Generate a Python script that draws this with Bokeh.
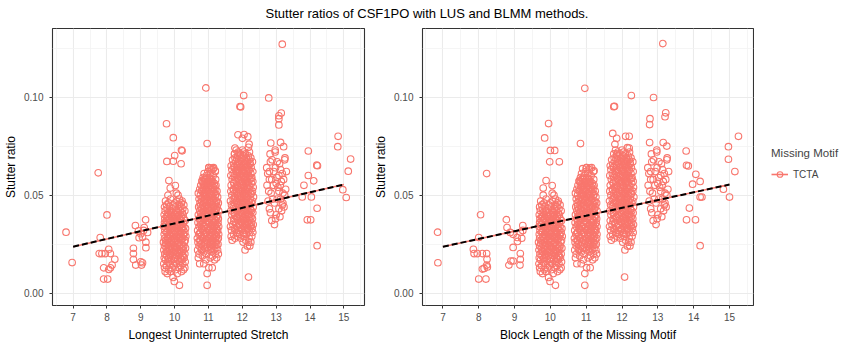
from bokeh.plotting import figure
from bokeh.models import Range1d, FixedTicker, Legend, LegendItem, Div, NumeralTickFormatter
from bokeh.layouts import row, column
from bokeh.embed import file_html
from bokeh.resources import INLINE

title_text = "Stutter ratios of CSF1PO with LUS and BLMM methods."
xlabel_lus = "Longest Uninterrupted Stretch"
xlabel_blmm = "Block Length of the Missing Motif"
ylabel = "Stutter ratio"
legend_title = "Missing Motif"
motif = "TCTA"

x_ticks = [7, 8, 9, 10, 11, 12, 13, 14, 15]
y_ticks = [0.0, 0.05, 0.10]

# dense clusters: stutter ratio levels (x1000) and jitter offsets (x100) around block length
c10_levels = [4, 6, 8, 10, 11, 12, 13, 14, 15, 16, 17, 18, 19, 20, 21, 22, 23, 24, 25, 26, 27, 28, 29, 30,
              31, 32, 33, 34, 35, 36, 37, 38, 39, 40, 41, 42, 43, 44, 45, 46, 47, 48, 50, 51]
c10_offsets = [[14], [-1], [-5], [-22, 8], [-28, -12, 20], [-18, 2, 26], [-30, -8, 12, 30], [-24, -2, 18],
               [-32, -14, 6, 24], [-20, 0, 14, 31], [-27, -9, 9, 22], [-31, -17, 3, 17, 28], [-23, -6, 11, 25],
               [-29, -13, 1, 14, 30], [-21, -4, 8, 21], [-32, -16, -1, 12, 26], [-25, -9, 5, 19, 32],
               [-30, -14, 0, 15, 27], [-22, -6, 9, 22], [-33, -17, -2, 13, 29], [-26, -10, 4, 18, 31],
               [-30, -15, 0, 11, 24], [-21, -5, 8, 20, 33], [-31, -17, -2, 14, 27], [-25, -11, 3, 17, 30],
               [-29, -14, 0, 12, 24], [-22, -7, 9, 21, 32], [-32, -17, -3, 14, 27], [-26, -10, 5, 18],
               [-30, -14, 1, 11, 25], [-23, -6, 9, 20, 31], [-29, -15, -1, 15, 27], [-24, -9, 5, 19],
               [-31, -17, 0, 12, 25], [-20, -5, 9, 22], [-28, -12, 3, 17, 30], [-22, -6, 11, 24],
               [-30, -15, 2, 18], [-24, -4, 13, 27], [-18, 0, 20], [-27, 6, 22], [-12, 14], [-20, 10], [5]]
c10_core_levels = [17.5, 19.5, 21.5, 23.5, 25.5, 27.5, 29.5, 31.5, 33.5, 35.5, 37.5, 39.5, 41.5]
c10_core_offsets = [[-19, 0, 19], [-15, 5, 22], [-24, -8, 15], [-18, 2, 24], [-27, -12, 12], [-20, -3, 20],
                    [-13, 6, 26], [-22, -1, 16], [-16, 4, 23], [-25, -7, 14], [-18, 3, 17], [-21, -6, 11],
                    [-14, 7]]

c11_levels = [4, 10, 13, 15, 17, 18, 19, 20, 21, 22, 23, 24, 25, 26, 27, 28, 29, 30, 31, 32, 33, 34, 35,
              36, 37, 38, 39, 40, 41, 42, 43, 44, 45, 46, 47, 48, 49, 50, 51, 52, 53, 54, 55, 56, 57, 58,
              59, 60, 61, 62, 63, 64]
c11_offsets = [[-4], [-4], [1, 11], [-26, -14], [-8, 18], [-30, 5, 24], [-18, 12], [-28, -6, 20, 29],
               [-14, 8], [-32, -20, 0, 16, 27], [-10, 10, 22], [-28, -16, 3, 18], [-22, -4, 13, 28],
               [-31, -12, 6, 21], [-25, -7, 10, 25], [-33, -17, 0, 15, 29], [-21, -5, 11, 23],
               [-29, -13, 4, 19, 30], [-24, -8, 8, 24], [-32, -16, 1, 14, 27], [-20, -3, 12, 22],
               [-28, -12, 5, 18, 30], [-23, -7, 9, 25], [-31, -15, 0, 15, 28], [-19, -4, 11, 21],
               [-27, -11, 4, 17, 29], [-22, -6, 8, 24], [-30, -14, 1, 13, 27], [-18, -2, 10, 20],
               [-26, -10, 5, 18, 30], [-21, -5, 9, 23], [-29, -13, 0, 14, 26], [-17, -3, 11, 21],
               [-25, -9, 6, 19, 29], [-20, -4, 10, 24], [-28, -12, 2, 15], [-16, 0, 12, 27],
               [-24, -8, 7, 20], [-30, -13, 3, 16], [-19, -3, 10, 25], [-26, -9, 6, 19], [-15, 1, 14],
               [-23, -6, 9, 22], [-12, 4, 17], [-19, -2, 12], [-9, 8, 21], [-16, 2], [-6, 14], [-13, 5],
               [20, -2], [9], [1, 15]]
c11_core_levels = [22.5, 24.5, 26.5, 28.5, 30.5, 32.5, 34.5, 36.5, 38.5, 40.5, 42.5, 44.5, 46.5, 48.5,
                   50.5, 52.5, 54.5, 56.5, 58.5]
c11_core_offsets = [[-22, 6], [-12, 10, 24], [-25, -2, 16], [-17, 7, 21], [-26, -6, 12], [-19, 3, 25],
                    [-14, 8, 20], [-24, -3, 16], [-16, 6, 24], [-23, -8, 11], [-15, 2, 21], [-24, -6, 17],
                    [-14, 4, 24], [-21, -5, 9], [-12, 6, 22], [-20, -7, 15], [-11, 3, 19], [-16, -4, 9],
                    [-10, 6]]

c12_levels = [22, 24, 26, 27, 28, 29, 30, 31, 32, 33, 34, 35, 36, 37, 38, 39, 40, 41, 42, 43, 44, 45, 46,
              47, 48, 49, 50, 51, 52, 53, 54, 55, 56, 57, 58, 59, 60, 61, 62, 63, 64, 65, 66, 67, 68, 69,
              70, 71, 72, 73]
c12_offsets = [[8], [15, 22], [2, 18, 25], [-30, 10], [-22, -5, 20], [-33, -14, 6, 28], [-26, -8, 12],
               [-18, 3, 22, 31], [-32, -11, 8, 19], [-24, -2, 14, 29], [-35, -15, 5, 24],
               [-28, -8, 10, 20, 32], [-20, -1, 16, 27], [-33, -13, 4, 22], [-25, -6, 11, 30],
               [-17, 1, 17, 26], [-31, -11, 7, 21], [-23, -4, 13, 31], [-34, -15, 2, 18, 27],
               [-27, -8, 9, 23], [-19, -1, 15, 32], [-32, -12, 5, 20], [-24, -5, 11, 27],
               [-35, -16, 1, 17, 30], [-27, -9, 8, 23], [-20, -2, 14, 33], [-31, -13, 4, 19],
               [-24, -6, 10, 26], [-34, -17, 0, 16, 30], [-27, -10, 7, 22], [-21, -3, 13, 32],
               [-33, -14, 3, 19], [-25, -7, 10, 27], [-18, 0, 16, 31], [-30, -11, 6, 22], [-23, -4, 12, 28],
               [-34, -15, 2, 18], [-27, -9, 8, 25], [-19, -1, 14, 31], [-31, -12, 4, 20], [-24, -6, 10, 26],
               [-33, -16, 1, 17], [-26, -8, 8, 23], [-19, -2, 14, 30], [-29, -11, 5, 20], [-22, -4, 11, 25],
               [-14, 3, 18], [-23, -6, 9], [-12, 4, 21], [-18, 0]]
c12_core_levels = [30.5, 32.5, 34.5, 36.5, 38.5, 40.5, 42.5, 44.5, 46.5, 48.5, 50.5, 52.5, 54.5, 56.5,
                   58.5, 60.5, 62.5, 64.5, 66.5, 68.5]
c12_core_offsets = [[-14, 5], [-22, -3, 14], [-10, 11, 26], [-25, -6, 8], [-16, 4, 22], [-24, -2, 15],
                    [-12, 7, 24], [-27, -7, 10], [-17, 3, 21], [-23, -5, 12], [-13, 8, 25], [-26, -8, 9],
                    [-16, 5, 22], [-25, -3, 13], [-12, 9, 26], [-22, -6, 11], [-15, 2, 19], [-24, -4, 13],
                    [-11, 7, 22], [-17, -2, 12]]

c13_levels = [73, 72, 69, 68, 67, 66, 64, 63, 62, 61, 60, 59, 58, 57, 56, 55, 54, 53, 52, 51, 50, 48, 47,
              46, 45, 44, 43, 42, 41, 40, 39, 38, 37, 35, 71]
c13_offsets = [[-3], [-3], [26], [25, -12], [-17, 3], [10], [-2, -28], [13], [-7, -20, 30], [-25, 18],
               [8], [2], [-13, -20, 22], [15], [0], [-27, -8, 12], [5], [28], [-22, 8], [-15, 20], [25],
               [-10, 3, 13], [-24], [-5, 20], [18], [23], [-20, 8], [16], [-17], [0], [11], [-2], [-13],
               [-5], [-18]]

# scattered points (block length, stutter ratio x1000), LUS panel
lus_sparse = [(6.79, 31.1), (6.97, 15.6), (7.74, 61.4), (7.80, 28.4), (8.00, 39.9), (7.77, 20.2),
              (7.85, 20.2), (7.95, 20.2), (8.05, 22.4), (8.10, 20.2), (8.23, 17.3), (8.15, 14.3),
              (8.10, 12.9), (7.90, 12.9), (8.05, 12.1), (7.90, 7.2), (8.02, 7.2),
              (8.84, 34.5), (9.14, 37.4), (8.78, 22.9), (8.78, 20.2), (8.78, 17.2), (8.85, 14.3),
              (9.00, 16.0), (9.05, 15.5), (9.02, 14.3), (8.95, 28.3), (9.00, 30.3), (9.08, 32.0),
              (9.15, 26.0), (9.20, 31.0), (9.10, 33.5), (9.05, 28.5), (9.15, 23.2), (8.93, 31.8),
              (9.76, 86.4), (9.96, 79.3), (10.20, 73.0), (10.22, 72.6), (10.00, 70.2), (9.77, 67.2),
              (9.96, 67.3), (10.19, 66.0), (9.83, 57.4), (10.02, 54.9), (9.87, 53.6),
              (10.92, 104.7), (10.96, 76.3), (11.01, 64.0), (11.20, 62.4), (10.81, 57.4), (11.07, 63.8),
              (11.14, 63.5),
              (12.04, 100.8), (11.93, 95.2), (11.95, 95.0), (11.87, 80.8), (12.05, 80.9), (12.16, 79.8),
              (12.00, 79.0), (12.20, 76.0), (12.18, 74.4), (11.78, 74.0), (11.77, 71.0), (12.18, 8.2),
              (12.78, 99.6), (13.18, 127.0), (13.15, 91.9), (13.08, 90.5), (13.08, 89.0), (13.08, 85.8),
              (12.84, 76.6), (13.13, 76.9), (13.22, 74.7),
              (13.95, 72.5), (14.20, 65.3), (14.22, 65.0), (14.83, 80.0), (14.82, 74.7), (15.20, 68.4),
              (15.13, 62.2), (13.95, 60.0), (13.82, 55.0), (14.11, 57.3), (13.77, 49.1), (14.04, 49.1),
              (14.21, 43.3), (13.92, 37.4), (14.02, 37.4), (14.21, 24.2), (14.97, 52.8), (15.07, 48.8)]

# scattered points, BLMM panel
blmm_sparse = [(6.85, 31.1), (6.86, 15.5), (8.22, 61.0), (8.05, 40.0), (8.00, 28.4), (7.85, 22.4),
               (7.87, 20.2), (7.96, 20.2), (8.10, 20.2), (8.22, 20.2), (8.23, 17.3), (8.22, 14.3),
               (8.15, 12.6), (8.10, 12.3), (8.24, 13.4), (8.00, 7.2), (8.20, 7.2),
               (8.77, 37.5), (9.23, 34.5), (8.96, 23.3), (9.16, 20.2), (9.16, 17.2), (9.15, 14.3),
               (8.84, 14.3), (8.90, 16.4), (8.96, 16.4), (8.79, 33.5), (8.88, 31.0), (8.96, 30.0),
               (9.07, 28.4), (9.08, 26.4), (9.16, 31.0), (9.23, 32.0), (9.20, 28.0),
               (9.95, 86.5), (9.84, 79.2), (10.00, 72.8), (10.12, 72.8), (9.98, 67.0), (10.25, 67.0),
               (9.88, 57.4), (10.05, 54.9), (9.80, 53.6),
               (10.96, 104.5), (10.84, 76.3), (11.00, 64.0), (11.22, 62.4), (10.80, 57.4), (11.10, 63.8),
               (10.90, 63.5),
               (12.26, 100.8), (11.77, 95.1), (11.79, 95.3), (11.74, 81.5), (11.85, 79.0), (12.10, 80.0),
               (12.20, 80.0), (11.80, 76.0), (12.15, 74.2), (12.20, 74.0), (11.85, 71.0), (12.07, 8.2),
               (12.88, 99.8), (13.14, 127.3), (13.22, 92.0), (13.20, 90.0), (12.78, 89.0), (12.77, 86.0),
               (12.77, 76.8), (13.15, 76.8), (13.25, 75.0),
               (13.79, 72.5), (13.80, 65.2), (13.85, 64.9), (14.97, 74.7), (15.25, 80.0), (14.97, 68.3),
               (15.15, 62.0), (13.97, 55.6), (14.06, 60.6), (14.18, 57.0), (13.88, 43.4), (13.80, 37.4),
               (14.05, 37.4), (14.18, 49.0), (14.23, 49.0), (14.18, 24.2), (14.83, 53.0), (15.00, 49.0)]

# fitted regression lines (block length, stutter ratio)
fit_x = [7, 15]
fit_lm_y = [0.0237, 0.0554]
fit_model_y = [0.0237, 0.0554]

RED = "#F8766D"
FONT = "Liberation Sans"


def expand(center, levels, offsets):
    xs, ys = [], []
    for lv, offs in zip(levels, offsets):
        for o in offs:
            xs.append(center + o / 100.0)
            ys.append(lv / 1000.0)
    return xs, ys


def all_points(sparse):
    xs, ys = [], []
    for c, lv, of in [(10, c10_levels, c10_offsets), (10, c10_core_levels, c10_core_offsets),
                      (11, c11_levels, c11_offsets), (11, c11_core_levels, c11_core_offsets),
                      (12, c12_levels, c12_offsets), (12, c12_core_levels, c12_core_offsets),
                      (13, c13_levels, c13_offsets)]:
        a, b = expand(c, lv, of)
        xs += a
        ys += b
    for x, y in sparse:
        xs.append(x)
        ys.append(y / 1000.0)
    return xs, ys


def make_panel(xs, ys, xr, xlabel, width, mbl, mbr):
    p = figure(width=width, height=318, x_range=Range1d(*xr), y_range=Range1d(-0.0063, 0.135),
               output_backend="svg", toolbar_location=None,
               min_border_left=mbl, min_border_right=mbr, min_border_top=2, min_border_bottom=36)
    p.background_fill_color = "white"
    p.border_fill_color = "white"
    p.outline_line_color = "#333333"
    p.outline_line_width = 1.1
    p.xaxis.ticker = FixedTicker(ticks=x_ticks, minor_ticks=[t + 0.5 for t in [6] + x_ticks])
    p.yaxis.ticker = FixedTicker(ticks=y_ticks, minor_ticks=[0.025, 0.075, 0.125])
    p.yaxis.formatter = NumeralTickFormatter(format="0.00")
    for g in (p.xgrid, p.ygrid):
        g.grid_line_color = "#ebebeb"
        g.grid_line_width = 1.1
        g.minor_grid_line_color = "#f3f3f3"
        g.minor_grid_line_width = 0.8
    for ax in (p.xaxis, p.yaxis):
        ax.axis_line_color = None
        ax.major_tick_line_color = "#333333"
        ax.major_tick_out = 3
        ax.major_tick_in = 0
        ax.minor_tick_line_color = None
        ax.major_label_text_font = FONT
        ax.major_label_text_font_size = "10px"
        ax.major_label_text_color = "#4d4d4d"
        ax.axis_label_text_font = FONT
        ax.axis_label_text_font_size = "12px"
        ax.axis_label_text_font_style = "normal"
        ax.axis_label_text_color = "black"
    p.xaxis.major_label_standoff = 3
    p.xaxis.axis_label_standoff = 4
    p.yaxis.major_label_standoff = 5
    p.yaxis.axis_label_standoff = 3
    p.xaxis.axis_label = xlabel
    p.yaxis.axis_label = ylabel
    sc = p.scatter(xs, ys, size=6.6, marker="circle", fill_color=None, line_color=RED, line_width=1.1)
    ln = p.line(fit_x, fit_lm_y, line_color=RED, line_width=1.6)
    p.line(fit_x, fit_model_y, line_color="black", line_width=2, line_dash="6 3")
    return p, sc, ln


lx, ly = all_points(lus_sparse)
bx, by = all_points(blmm_sparse)

p1, _, _ = make_panel(lx, ly, (6.39, 15.61), xlabel_lus, 370, 52, 6)
p2, _, _ = make_panel(bx, by, (6.43, 15.67), xlabel_blmm, 384, 52, 1)

# legend panel (its glyphs hold the same data, kept outside the visible range)
p3 = figure(width=100, height=318, x_range=Range1d(0, 1), y_range=Range1d(0, 1),
            output_backend="svg", toolbar_location=None, x_axis_type=None, y_axis_type=None,
            min_border_left=0, min_border_right=0, min_border_top=0, min_border_bottom=0)
p3.outline_line_color = None
p3.grid.visible = False
p3.background_fill_color = "white"
p3.border_fill_color = "white"
lg_line = p3.line(fit_x, fit_lm_y, line_color=RED, line_width=1.6)
lg_pt = p3.scatter(bx[:3], by[:3], size=6.6, marker="circle", fill_color=None, line_color=RED, line_width=1.1)

legend = Legend(items=[LegendItem(label=motif, renderers=[lg_line, lg_pt])], title=legend_title,
                location=(17, 124), orientation="vertical")
legend.title_text_font = FONT
legend.title_text_font_size = "11.5px"
legend.title_text_font_style = "normal"
legend.title_standoff = 8
legend.label_text_font = FONT
legend.label_text_font_size = "10px"
legend.glyph_width = 17
legend.glyph_height = 14
legend.label_standoff = 5
legend.padding = 2
legend.margin = 0
legend.border_line_color = None
legend.background_fill_color = None
p3.add_layout(legend)

title = Div(text=title_text, width=854, height=26, margin=(0, 0, 0, 0),
            styles={"font-family": FONT, "font-size": "13px", "color": "black", "text-align": "center",
                    "width": "854px", "line-height": "27px"})

layout = column(title, row(p1, p2, p3, spacing=0), spacing=0)

open("out.html", "w").write(file_html(layout, INLINE))
